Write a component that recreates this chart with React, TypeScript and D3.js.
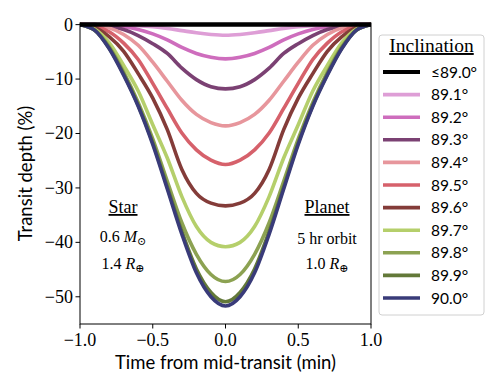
import React from "react";
import * as d3 from "d3";

// time grid (min), left half; curves are symmetric about mid-transit
const timeHalf = [-1.0, -0.9, -0.8, -0.7, -0.6, -0.5, -0.4, -0.3, -0.2, -0.1, 0.0];

const inclinations = ["89.0", "89.1", "89.2", "89.3", "89.4", "89.5", "89.6", "89.7", "89.8", "89.9", "90.0"];
const legendLabels = ["\u226489.0\u00b0", "89.1\u00b0", "89.2\u00b0", "89.3\u00b0", "89.4\u00b0", "89.5\u00b0", "89.6\u00b0", "89.7\u00b0", "89.8\u00b0", "89.9\u00b0", "90.0\u00b0"];
const colors = ["#000000", "#de9ed6", "#ce6dbd", "#7b4173", "#e7969c", "#d6616b", "#843c39", "#b5cf6b", "#8ca252", "#637939", "#393b79"];

// transit depth (%) at timeHalf
const depth890 = [0, 0, 0, 0, 0, 0, 0, 0, 0, 0, 0];
const depth891 = [0, 0, 0, -0.1, -0.2, -0.4, -0.7, -1.1, -1.5, -1.8, -1.95];
const depth892 = [0, 0, -0.1, -0.4, -0.9, -1.7, -2.8, -4.2, -5.3, -6.0, -6.3];
const depth893 = [0, 0, -0.3, -0.9, -2.0, -3.5, -5.3, -8.0, -10.1, -11.4, -11.8];
const depth894 = [0, -0.1, -0.6, -1.8, -3.8, -6.9, -10.4, -13.9, -16.5, -18.0, -18.6];
const depth895 = [0, -0.3, -1.3, -3.4, -6.4, -10.8, -15.4, -19.9, -23.0, -24.9, -25.7];
const depth896 = [0, -0.5, -2.2, -4.9, -9.0, -13.5, -19.3, -26.6, -31.0, -32.8, -33.3];
const depth897 = [0, -0.8, -3.3, -7.5, -12.2, -18.4, -24.5, -31.6, -37.1, -40.0, -40.8];
const depth898 = [0, -1.0, -4.0, -8.7, -14.3, -21.0, -28.8, -36.4, -42.2, -45.9, -47.2];
const depth899 = [0, -1.0, -4.3, -9.1, -14.8, -21.7, -29.8, -38.0, -44.9, -49.2, -50.9];
const depth900 = [0, -1.0, -4.4, -9.3, -15.0, -22.0, -30.2, -38.5, -45.6, -50.0, -51.7];

const depths = [depth890, depth891, depth892, depth893, depth894, depth895, depth896, depth897, depth898, depth899, depth900];

const xTicks = [-1.0, -0.5, 0.0, 0.5, 1.0];
const yTicks = [0, -10, -20, -30, -40, -50];

const W = 499;
const H = 391;
const M = { left: 80, right: 128, top: 23, bottom: 67 };

const serif = "'Liberation Serif', 'DejaVu Serif', serif";
const sans = "'Lato', 'DejaVu Sans', sans-serif";

function fmtNum(v: number, digits: number) {
  const s = Math.abs(v).toFixed(digits);
  return v < 0 ? "\u2212" + s : s;
}

export default function App() {
  const x = d3.scaleLinear().domain([-1, 1]).range([M.left, W - M.right]);
  const y = d3.scaleLinear().domain([-55.0, 0.3]).range([H - M.bottom, M.top]);
  const line = d3
    .line<[number, number]>()
    .x((d) => x(d[0]))
    .y((d) => y(d[1]))
    .curve(d3.curveMonotoneX);

  const series = depths.map((half) => {
    const left: [number, number][] = timeHalf.map((t, i) => [t, half[i]]);
    const right: [number, number][] = timeHalf
      .slice(0, -1)
      .map((t, i) => [-t, half[i]] as [number, number])
      .reverse();
    return left.concat(right);
  });

  // draw coloured curves first, the flat ≤89.0° line on top
  const order = [1, 2, 3, 4, 5, 6, 7, 8, 9, 10, 0];

  const x0 = x(-1), x1 = x(1), y0 = y(0.3), y1 = y(-55.0);
  const legX = 379, legY = 35, legW = 105, legH = 280;
  const rowH = 22.6;

  return (
    <svg width={W} height={H} style={{ position: "absolute", left: 0, top: 0, background: "#fff" }}>
      <defs>
        <clipPath id="plotclip">
          <rect x={x0} y={y0 - 3} width={x1 - x0} height={y1 - y0 + 3} />
        </clipPath>
      </defs>
      <g clipPath="url(#plotclip)">
        {order.map((i) => (
          <path
            key={inclinations[i]}
            d={line(series[i]) || ""}
            fill="none"
            stroke={colors[i]}
            strokeWidth={i === 0 ? 4.2 : 3.6}
            strokeLinejoin="round"
          />
        ))}
      </g>
      {/* frame */}
      <rect x={x0} y={y0} width={x1 - x0} height={y1 - y0} fill="none" stroke="#000" strokeWidth={1} />
      {/* x ticks */}
      {xTicks.map((t) => (
        <g key={"x" + t}>
          <line x1={x(t)} x2={x(t)} y1={y1} y2={y1 + 4.5} stroke="#000" strokeWidth={1} />
          <text x={x(t)} y={y1 + 22} textAnchor="middle" fontFamily={serif} fontSize={18}>
            {fmtNum(t, 1)}
          </text>
        </g>
      ))}
      {/* y ticks */}
      {yTicks.map((v) => (
        <g key={"y" + v}>
          <line x1={x0 - 4.5} x2={x0} y1={y(v)} y2={y(v)} stroke="#000" strokeWidth={1} />
          <text x={x0 - 7} y={y(v) + 6} textAnchor="end" fontFamily={serif} fontSize={18}>
            {fmtNum(v, 0)}
          </text>
        </g>
      ))}
      <text x={(x0 + x1) / 2} y={369} textAnchor="middle" fontFamily={sans} fontSize={18.5}>
        Time from mid-transit (min)
      </text>
      <text
        transform={`translate(${32},${(y0 + y1) / 2}) rotate(-90)`}
        textAnchor="middle"
        fontFamily={sans}
        fontSize={18.5}
      >
        Transit depth (%)
      </text>

      {/* Star annotation */}
      <text x={123} y={213} textAnchor="middle" fontFamily={serif} fontSize={18} textDecoration="underline">
        Star
      </text>
      <text x={123} y={242} textAnchor="middle" fontFamily={serif} fontSize={16}>
        0.6 <tspan fontStyle="italic">M</tspan>
        <tspan fontSize={11} dy={3}>{"\u2299"}</tspan>
      </text>
      <text x={123} y={269} textAnchor="middle" fontFamily={serif} fontSize={16}>
        1.4 <tspan fontStyle="italic">R</tspan>
        <tspan fontSize={11} dy={3}>{"\u2295"}</tspan>
      </text>

      {/* Planet annotation */}
      <text x={327} y={213} textAnchor="middle" fontFamily={serif} fontSize={18} textDecoration="underline">
        Planet
      </text>
      <text x={327} y={244} textAnchor="middle" fontFamily={serif} fontSize={16}>
        5 hr orbit
      </text>
      <text x={327} y={269} textAnchor="middle" fontFamily={serif} fontSize={16}>
        1.0 <tspan fontStyle="italic">R</tspan>
        <tspan fontSize={11} dy={3}>{"\u2295"}</tspan>
      </text>

      {/* legend */}
      <rect x={legX} y={legY} width={legW} height={legH} rx={3} fill="#fff" stroke="#d0d0d0" strokeWidth={1} />
      <text x={legX + legW / 2} y={legY + 17} textAnchor="middle" fontFamily={serif} fontSize={19.5} textDecoration="underline">
        Inclination
      </text>
      {legendLabels.map((lab, i) => {
        const cy = legY + 37 + i * rowH;
        return (
          <g key={lab}>
            <line x1={legX + 4} x2={legX + 41} y1={cy} y2={cy} stroke={colors[i]} strokeWidth={i === 0 ? 4.2 : 3.6} />
            <text x={legX + 52} y={cy + 5.5} fontFamily={sans} fontSize={15.5}>
              {lab}
            </text>
          </g>
        );
      })}
    </svg>
  );
}
